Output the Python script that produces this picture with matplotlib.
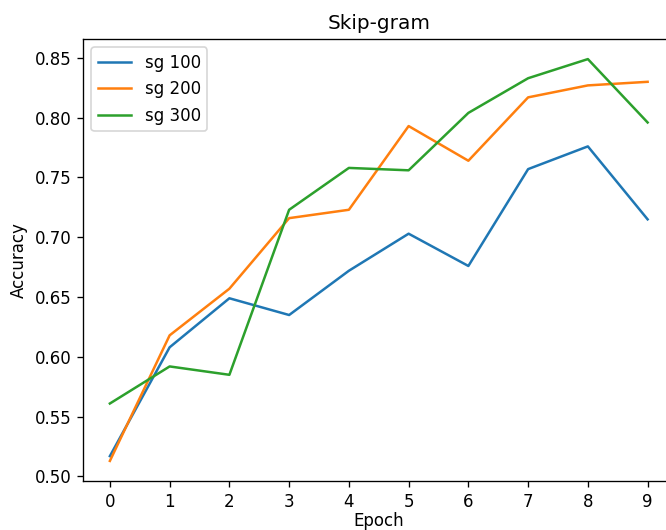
import matplotlib
matplotlib.use("Agg")
import matplotlib.pyplot as plt

epochs = list(range(10))
sg100 = [0.517, 0.608, 0.649, 0.635, 0.672, 0.703, 0.676, 0.757, 0.776, 0.715]
sg200 = [0.513, 0.618, 0.657, 0.716, 0.723, 0.793, 0.764, 0.817, 0.827, 0.830]
sg300 = [0.561, 0.592, 0.585, 0.723, 0.758, 0.756, 0.804, 0.833, 0.849, 0.796]
labels = ["sg 100", "sg 200", "sg 300"]

fig = plt.figure(figsize=(666 / 120, 530 / 120), dpi=120)
ax = fig.add_axes([83 / 666, 49 / 530, 591.5 / 666, 442 / 530])
for ys, lab in zip([sg100, sg200, sg300], labels):
    ax.plot(epochs, ys, label=lab)
ax.set_xticks(epochs)
ax.set_title("Skip-gram")
ax.set_xlabel("Epoch", labelpad=1)
ax.set_ylabel("Accuracy")
ax.legend(loc="upper left")
fig.savefig("out.png", dpi=120)
